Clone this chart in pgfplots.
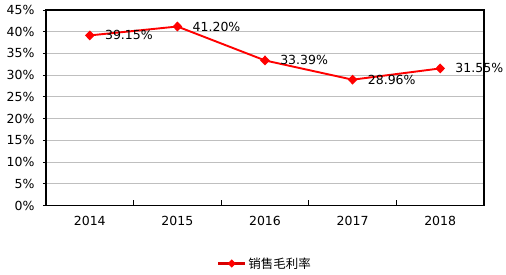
\documentclass[border=0pt]{standalone}
\usepackage{pgfplots}
\pgfplotsset{compat=1.18}
\usepackage{fontspec}
\setmainfont{DejaVu Sans}
\newfontfamily\cjk{Noto Sans CJK SC}
\begin{document}
\begin{tikzpicture}
\begin{axis}[
  scale only axis, width=438pt, height=195.5pt,
  at={(0pt,0pt)}, anchor=south west,
  xmin=-0.5, xmax=4.5, ymin=0, ymax=45,
  xtick={0,1,2,3,4},
  xticklabels={2014,2015,2016,2017,2018},
  minor xtick={0.5,1.5,2.5,3.5},
  xtick pos=bottom, ytick pos=left,
  major x tick style={draw=none},
  minor x tick style={black, line width=0.8pt},
  minor tick length=5pt,
  x tick label style={yshift=-7pt},
  ytick={0,5,...,45},
  yticklabels={0\%,5\%,10\%,15\%,20\%,25\%,30\%,35\%,40\%,45\%},
  y tick style={black, line width=0.8pt},
  yticklabel style={xshift=-5pt},
  ytick align=outside, major tick length=3pt,
  ymajorgrids, grid style={draw=black!25, line width=0.8pt},
  axis line style={black, line width=1.2pt},
  tick label style={font=\fontsize{12.5}{14}\selectfont},
  legend style={at={(0.5,-0.297)}, anchor=center, draw=none, fill=none,
    font=\fontsize{12.5}{14}\selectfont\cjk, inner sep=0pt},
  legend image code/.code={
    \draw[red!85!black, line width=2.4pt] (0pt,0pt) -- (27pt,0pt);
    \draw[red, mark=diamond*, mark size=2.8pt, mark options={solid, fill=red, xscale=1.3}] plot coordinates {(13.5pt,0pt)};},
  nodes near coords,
  point meta=explicit symbolic,
  nodes near coords style={anchor=west, xshift=11pt, black, font=\fontsize{12.5}{14}\selectfont},
]
\addplot[red, line width=1.9pt, mark=diamond*, mark size=3.6pt, mark options={solid, fill=red, xscale=1.3}]
coordinates {
  (0,39.15) [39.15\%]
  (1,41.20) [41.20\%]
  (2,33.39) [33.39\%]
  (3,28.96) [28.96\%]
  (4,31.55) [31.55\%]
};
\addlegendentry{销售毛利率}
\end{axis}
\pgfresetboundingbox
\path (-46pt,-69pt) rectangle (460pt,205.5pt);
\end{tikzpicture}
\end{document}
